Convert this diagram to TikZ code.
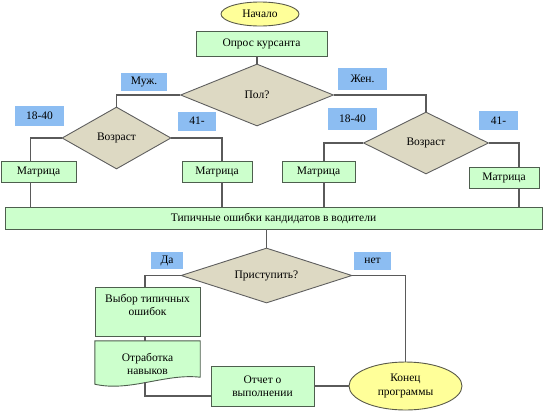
\documentclass[tikz,border=0pt]{standalone}
\usepackage{fontspec}
\setmainfont{Liberation Serif}
\usetikzlibrary{shapes.geometric, backgrounds}
\definecolor{stepgreen}{HTML}{CCFFCC}
\definecolor{stepgreenborder}{HTML}{4E5E4E}
\definecolor{choicetan}{HTML}{DDD9C3}
\definecolor{choicetanborder}{HTML}{5F5F5F}
\definecolor{answerblue}{HTML}{8CBDF2}
\definecolor{endyellow}{HTML}{FFFF99}
\definecolor{endyellowborder}{HTML}{5A5A4A}
\definecolor{wiregray}{HTML}{5A5A5A}

\begin{document}
\begin{tikzpicture}[x=1pt, y=-1pt,
      font=\fontsize{11.5}{13.5}\selectfont,
      stepbox/.style={draw=stepgreenborder, fill=stepgreen, line width=0.9pt,
        inner sep=0pt, align=center},
      choice/.style={diamond, aspect=2.8, draw=choicetanborder, fill=choicetan,
        line width=0.9pt, inner sep=0pt},
      answer/.style={fill=answerblue, inner sep=0pt},
      terminal/.style={ellipse, draw=endyellowborder, fill=endyellow,
        line width=0.9pt, inner sep=0pt, align=center},
      wire/.style={draw=wiregray, line width=1.1pt}
    ]
      \useasboundingbox (0,0) rectangle (545,410);

      % top part
      \node[terminal, minimum width=78pt, minimum height=24pt] (nachalo)
        at (260,14) {Начало};
      \node[stepbox, minimum width=131pt, minimum height=25pt] (opros)
        at (261.5,43.5) {Опрос курсанта};
      \node[choice, minimum width=153pt, minimum height=62pt] (pol)
        at (257,95) {Пол?};
      \node[answer, minimum width=46pt, minimum height=18pt] (muzh)
        at (144,82) {Муж.};
      \node[answer, minimum width=49pt, minimum height=22pt] (zhen)
        at (362.5,79) {Жен.};

      % age branches
      \node[choice, minimum width=109pt, minimum height=62pt] (vozrL)
        at (116.5,138) {Возраст};
      \node[choice, minimum width=125pt, minimum height=62pt] (vozrR)
        at (426,143) {Возраст};
      \node[answer, minimum width=49pt, minimum height=20pt] (ageL1)
        at (39.5,116) {18-40};
      \node[answer, minimum width=38pt, minimum height=19pt] (ageL2)
        at (197,121) {41-};
      \node[answer, minimum width=49pt, minimum height=22pt] (ageR1)
        at (352.5,118.5) {18-40};
      \node[answer, minimum width=39pt, minimum height=19pt] (ageR2)
        at (498.5,120.5) {41-};

      \node[stepbox, minimum width=75pt, minimum height=21pt] (matL1)
        at (38.5,171.5) {Матрица};
      \node[stepbox, minimum width=70pt, minimum height=21pt] (matL2)
        at (217,171.5) {Матрица};
      \node[stepbox, minimum width=73pt, minimum height=21pt] (matR1)
        at (318.5,171.5) {Матрица};
      \node[stepbox, minimum width=70pt, minimum height=21pt] (matR2)
        at (504,177.5) {Матрица};

      \node[stepbox, minimum width=537pt, minimum height=22pt] (tipich)
        at (273.5,218) {Типичные ошибки кандидатов в водители};

      % lower part
      \node[choice, minimum width=171pt, minimum height=55pt] (prist)
        at (266.5,275.5) {Приступить?};
      \node[answer, minimum width=32pt, minimum height=17pt] (da)
        at (167,260.5) {Да};
      \node[answer, minimum width=37pt, minimum height=18pt] (net)
        at (372.5,261) {нет};
      \node[stepbox, minimum width=105pt, minimum height=49pt] (vybor)
        at (147.5,311.5) {Выбор типичных\\ошибок\\\phantom{x}};
      \node[align=center, inner sep=0pt, minimum width=105pt,
        minimum height=46pt] (otrab) at (147.5,364) {Отработка\\навыков};
      \node[stepbox, minimum width=103pt, minimum height=40pt] (otchet)
        at (262.5,386) {Отчет о\\выполнении};
      \node[terminal, minimum width=113pt, minimum height=48pt] (konec)
        at (405.5,386) {Конец\\программы};

      \begin{scope}[on background layer]
        \filldraw[draw=stepgreenborder, fill=stepgreen, line width=0.9pt]
          (otrab.north west) -- (otrab.north east)
          -- ([yshift=10pt]otrab.south east)
          .. controls ([xshift=-35pt,yshift=14pt]otrab.south east)
          and ([xshift=35pt,yshift=-5pt]otrab.south west)
          .. ([yshift=3pt]otrab.south west) -- cycle;
      \end{scope}

      % connectors
      \draw[wire] (pol.north) -- (pol.north |- opros.south);
      \draw[wire] (pol.west) -| (vozrL.north);
      \draw[wire] (pol.east) -| (vozrR.north);
      \draw[wire] (vozrL.west) -| ([xshift=-8pt]matL1.north);
      \draw[wire] (vozrL.east) -| ([xshift=5pt]matL2.north);
      \draw[wire] (vozrR.west) -| ([xshift=5.5pt]matR1.north);
      \draw[wire] (vozrR.east) -| ([xshift=15pt]matR2.north);
      \draw[wire] ([xshift=-8pt]matL1.south) -- ([xshift=-8pt]matL1.south |- tipich.north);
      \draw[wire] ([xshift=5pt]matL2.south) -- ([xshift=5pt]matL2.south |- tipich.north);
      \draw[wire] ([xshift=5.5pt]matR1.south) -- ([xshift=5.5pt]matR1.south |- tipich.north);
      \draw[wire] ([xshift=15pt]matR2.south) -- ([xshift=15pt]matR2.south |- tipich.north);
      \draw[wire] (prist.north) -- (prist.north |- tipich.south);
      \draw[wire] (prist.west) -| ([xshift=-2.5pt]vybor.north);
      \draw[wire] ([xshift=-2.5pt]vybor.south) -- ([xshift=-2.5pt]otrab.north);
      \draw[wire] ([xshift=-2.5pt,yshift=5pt]otrab.south)
        |- ([yshift=-10pt]otchet.west);
      \draw[wire] (otchet.east) -- (konec.west);
      \draw[wire] (prist.east) -| (konec.north);
    \end{tikzpicture}
\end{document}
